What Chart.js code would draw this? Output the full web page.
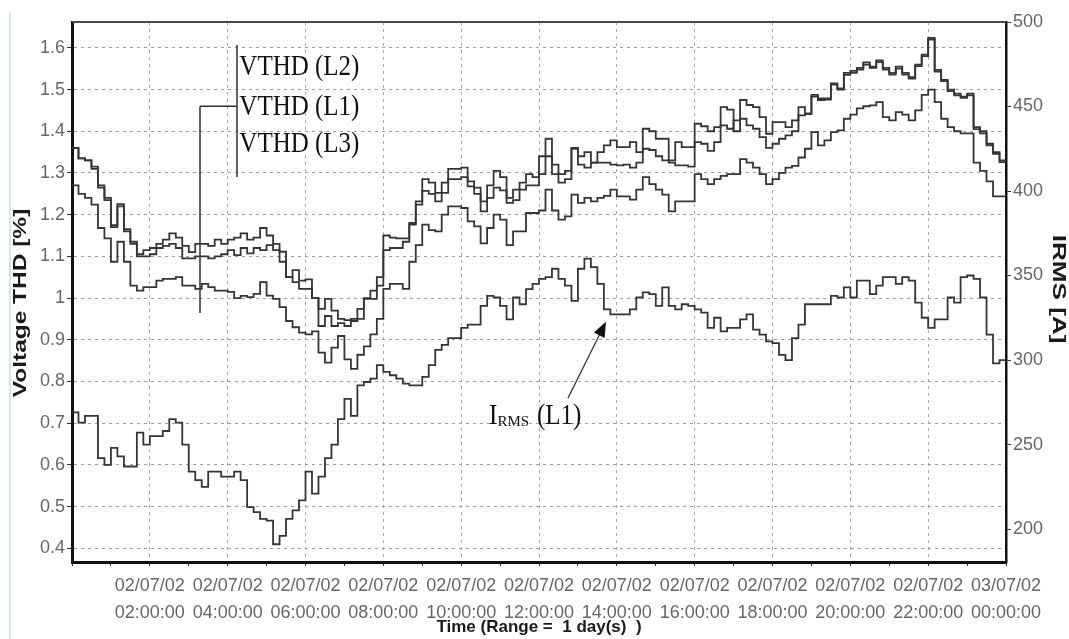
<!DOCTYPE html>
<html>
<head>
<meta charset="utf-8">
<title>VTHD / IRMS</title>
<script src="https://cdn.jsdelivr.net/npm/chart.js@4.4.1/dist/chart.umd.min.js"></script>
<style>
  html, body { margin: 0; padding: 0; background: #fff; }
  #chart { display: block; }
</style>
</head>
<body>
<canvas id="chart" width="1069" height="639"></canvas>
<script>
// one reading every 10 minutes, 02/07/02 00:00 -> 03/07/02 00:00
const stepMinutes = 10;

// Voltage THD [%]
const vthdL2 = [
  1.36, 1.335, 1.33, 1.315, 1.27, 1.24, 1.175, 1.225, 1.165, 1.135, 1.105, 1.115,
  1.12, 1.13, 1.14, 1.155, 1.145, 1.125, 1.11, 1.13, 1.13, 1.125, 1.14, 1.13,
  1.14, 1.145, 1.155, 1.14, 1.145, 1.168, 1.15, 1.13, 1.111, 1.05, 1.067, 1.042,
  1.045, 1.0, 0.974, 0.998, 0.97, 0.95, 0.947, 0.95, 0.974, 1.0, 1.018, 1.05,
  1.15, 1.145, 1.143, 1.143, 1.176, 1.232, 1.285, 1.277, 1.252, 1.277, 1.31, 1.31,
  1.313, 1.28, 1.265, 1.232, 1.27, 1.305, 1.29, 1.24, 1.26, 1.277, 1.297, 1.29,
  1.34, 1.382, 1.32, 1.297, 1.305, 1.358, 1.34, 1.35, 1.325, 1.35, 1.366, 1.378,
  1.362, 1.362, 1.374, 1.35, 1.406, 1.40, 1.382, 1.382, 1.33, 1.374, 1.362, 1.362,
  1.418, 1.412, 1.40, 1.41, 1.458, 1.452, 1.40, 1.475, 1.463, 1.458, 1.434, 1.394,
  1.422, 1.422, 1.41, 1.426, 1.458, 1.442, 1.487, 1.479, 1.479, 1.515, 1.503, 1.54,
  1.545, 1.552, 1.565, 1.555, 1.57, 1.552, 1.54, 1.555, 1.54, 1.53, 1.56, 1.584,
  1.624, 1.547, 1.523, 1.50, 1.49, 1.483, 1.49, 1.41, 1.40, 1.37, 1.35, 1.33
];
const vthdL1 = [
  1.36, 1.335, 1.33, 1.31, 1.265, 1.235, 1.17, 1.22, 1.16, 1.13, 1.10, 1.10,
  1.105, 1.12, 1.125, 1.13, 1.12, 1.095, 1.095, 1.10, 1.10, 1.095, 1.10, 1.105,
  1.115, 1.103, 1.12, 1.107, 1.12, 1.115, 1.127, 1.115, 1.087, 1.05, 1.038, 1.022,
  1.022, 1.0, 0.933, 0.957, 0.933, 0.94, 0.933, 0.945, 0.95, 0.998, 0.998, 1.03,
  1.115, 1.12, 1.12, 1.135, 1.18, 1.224, 1.257, 1.25, 1.232, 1.252, 1.285, 1.285,
  1.29, 1.268, 1.25, 1.208, 1.24, 1.265, 1.258, 1.228, 1.235, 1.26, 1.27, 1.27,
  1.297, 1.34, 1.297, 1.277, 1.285, 1.36, 1.32, 1.313, 1.325, 1.325, 1.325, 1.32,
  1.318, 1.32, 1.313, 1.325, 1.358, 1.355, 1.34, 1.33, 1.325, 1.318, 1.318, 1.315,
  1.374, 1.37, 1.353, 1.374, 1.414, 1.406, 1.426, 1.43, 1.414, 1.406, 1.386, 1.36,
  1.37, 1.382, 1.39, 1.40, 1.438, 1.442, 1.483, 1.475, 1.476, 1.512, 1.50, 1.535,
  1.54, 1.548, 1.56, 1.552, 1.566, 1.548, 1.536, 1.55, 1.536, 1.526, 1.556, 1.58,
  1.62, 1.543, 1.52, 1.496, 1.486, 1.48, 1.486, 1.405, 1.395, 1.366, 1.346, 1.326
];
const vthdL3 = [
  1.27, 1.25, 1.24, 1.224, 1.168, 1.143, 1.087, 1.135, 1.087, 1.03, 1.018, 1.026,
  1.026, 1.042, 1.046, 1.046, 1.05, 1.03, 1.03, 1.022, 1.034, 1.026, 1.018, 1.018,
  1.015, 1.0, 1.005, 1.002, 1.01, 1.038, 1.006, 0.998, 0.978, 0.945, 0.93, 0.917,
  0.913, 0.92, 0.869, 0.845, 0.881, 0.909, 0.853, 0.83, 0.864, 0.884, 0.913, 0.95,
  1.022, 1.034, 1.034, 1.022, 1.087, 1.127, 1.176, 1.163, 1.16, 1.2, 1.22, 1.22,
  1.216, 1.184, 1.172, 1.131, 1.168, 1.2, 1.188, 1.127, 1.16, 1.16, 1.204, 1.204,
  1.21, 1.26, 1.21, 1.188, 1.196, 1.248, 1.228, 1.24, 1.232, 1.24, 1.245, 1.26,
  1.244, 1.244, 1.236, 1.26, 1.29, 1.273, 1.26, 1.248, 1.208, 1.232, 1.232, 1.232,
  1.297, 1.285, 1.273, 1.285, 1.293, 1.297, 1.297, 1.333, 1.325, 1.313, 1.297, 1.273,
  1.285, 1.30, 1.313, 1.317, 1.337, 1.358, 1.398, 1.366, 1.378, 1.398, 1.402, 1.43,
  1.44, 1.455, 1.46, 1.462, 1.47, 1.434, 1.426, 1.446, 1.44, 1.426, 1.45, 1.487,
  1.50, 1.47, 1.43, 1.41, 1.40, 1.395, 1.395, 1.325, 1.305, 1.28, 1.244, 1.244
];

// IRMS [A]
const irmsL1 = [
  269, 263, 267, 267, 242, 238, 248, 243, 237, 237, 257, 250,
  255, 255, 258, 265, 263, 250, 234, 229, 225, 234, 234, 231,
  231, 234, 229, 213, 210, 206, 205, 191, 196, 206, 211, 217,
  234, 221, 231, 242, 250, 265, 277, 267, 285, 287, 289, 297,
  293, 291, 289, 286, 285, 285, 290, 297, 306, 309, 313, 313,
  319, 321, 321, 332, 338, 337, 332, 324, 337, 333, 342, 345,
  348, 349, 354, 348, 344, 335, 354, 360, 355, 345, 330, 327,
  327, 327, 330, 337, 340, 339, 332, 343, 332, 330, 333, 332,
  330, 328, 319, 325, 317, 319, 319, 324, 327, 318, 315, 311,
  310, 303, 300, 313, 321, 333, 333, 333, 333, 338, 337, 343,
  337, 347, 347, 339, 344, 349, 349, 345, 349, 347, 334, 325,
  319, 324, 324, 337, 334, 349, 350, 348, 337, 315, 298, 300
];

// x axis labels, one per 2 hours
const tickDates = ['', '02/07/02', '02/07/02', '02/07/02', '02/07/02', '02/07/02', '02/07/02',
  '02/07/02', '02/07/02', '02/07/02', '02/07/02', '02/07/02', '03/07/02'];
const tickTimes = ['', '02:00:00', '04:00:00', '06:00:00', '08:00:00', '10:00:00', '12:00:00',
  '14:00:00', '16:00:00', '18:00:00', '20:00:00', '22:00:00', '00:00:00'];

const lineColor = '#353535';
const sans = '"Liberation Sans", Arial, sans-serif';
const serif = '"Liberation Serif", "Times New Roman", serif';

// step series: each reading holds for 10 minutes, close the last step at 24h
function toSteps(values) {
  const pts = values.map((v, i) => ({ x: i * stepMinutes / 60, y: v }));
  pts.push({ x: 24, y: values[values.length - 1] });
  return pts;
}

function stepDataset(label, values, axis) {
  return {
    label: label,
    data: toSteps(values),
    yAxisID: axis,
    stepped: 'before',
    borderColor: lineColor,
    borderWidth: 1.8,
    pointRadius: 0,
    fill: false
  };
}

function drawText(ctx, text, x, y, o) {
  ctx.save();
  ctx.translate(x, y);
  ctx.rotate(o.rotation || 0);
  ctx.scale(o.sx || 1, o.sy || 1);
  ctx.font = o.font;
  ctx.fillStyle = o.color || '#000';
  ctx.textAlign = o.align || 'left';
  ctx.textBaseline = o.baseline || 'alphabetic';
  ctx.fillText(text, 0, 0);
  ctx.restore();
}

const decorations = {
  id: 'decorations',
  beforeDraw(chart) {
    const ctx = chart.ctx;
    ctx.save();
    ctx.fillStyle = '#fff';
    ctx.fillRect(0, 0, chart.width, chart.height);
    ctx.strokeStyle = '#d3e9ea';
    ctx.lineWidth = 2;
    ctx.beginPath();
    ctx.moveTo(10, 12);
    ctx.lineTo(10, chart.height);
    ctx.stroke();
    ctx.restore();
  },
  afterDraw(chart) {
    const ctx = chart.ctx;
    const area = chart.chartArea;
    const sx = chart.scales.x, sy = chart.scales.y;
    const px = t => sx.getPixelForValue(t);
    const py = v => sy.getPixelForValue(v);

    // top frame line
    ctx.save();
    ctx.strokeStyle = '#4a4a4a';
    ctx.lineWidth = 2;
    ctx.beginPath();
    ctx.moveTo(area.left, area.top);
    ctx.lineTo(area.right, area.top);
    ctx.stroke();
    ctx.restore();

    // vertical axis titles (drawn elongated like the original)
    drawText(ctx, 'Voltage THD [%]', 21, 303, { font: 'bold 18px ' + sans, color: '#1a1a1a',
      rotation: -Math.PI / 2, sx: 1.36, align: 'center', baseline: 'middle' });
    drawText(ctx, 'IRMS [A]', 1058, 289, { font: 'bold 18px ' + sans, color: '#1a1a1a',
      rotation: Math.PI / 2, sx: 1.45, align: 'center', baseline: 'middle' });

    // VTHD labels with bracket
    ctx.save();
    ctx.strokeStyle = '#333';
    ctx.lineWidth = 1.5;
    ctx.beginPath();
    ctx.moveTo(px(4.24), py(1.607));
    ctx.lineTo(px(4.24), py(1.290));
    ctx.moveTo(px(3.289), py(1.460));
    ctx.lineTo(px(4.24), py(1.460));
    ctx.moveTo(px(3.289), py(1.460));
    ctx.lineTo(px(3.289), py(0.964));
    ctx.stroke();
    ctx.restore();
    const labelOpts = { font: '25px ' + serif, color: '#111', sy: 1.2 };
    drawText(ctx, 'VTHD (L2)', px(4.30), py(1.535), labelOpts);
    drawText(ctx, 'VTHD (L1)', px(4.30), py(1.439), labelOpts);
    drawText(ctx, 'VTHD (L3)', px(4.30), py(1.350), labelOpts);

    // IRMS label and arrow
    const lx = px(10.715), ly = py(0.698);
    drawText(ctx, 'I', lx, ly, { font: '25px ' + serif, color: '#111', sy: 1.2 });
    drawText(ctx, 'RMS', lx + 8.5, ly + 2, { font: '15px ' + serif, color: '#111' });
    drawText(ctx, '(L1)', lx + 48, ly, { font: '25px ' + serif, color: '#111', sy: 1.2 });

    const x0 = px(12.745), y0 = py(0.760), x1 = px(13.72), y1 = py(0.943);
    const ang = Math.atan2(y1 - y0, x1 - x0);
    ctx.save();
    ctx.strokeStyle = '#333';
    ctx.fillStyle = '#111';
    ctx.lineWidth = 1.2;
    ctx.beginPath();
    ctx.moveTo(x0, y0);
    ctx.lineTo(x1 - 12 * Math.cos(ang), y1 - 12 * Math.sin(ang));
    ctx.stroke();
    ctx.beginPath();
    ctx.moveTo(x1, y1);
    ctx.lineTo(x1 - 15 * Math.cos(ang) + 6 * Math.sin(ang), y1 - 15 * Math.sin(ang) - 6 * Math.cos(ang));
    ctx.lineTo(x1 - 15 * Math.cos(ang) - 6 * Math.sin(ang), y1 - 15 * Math.sin(ang) + 6 * Math.cos(ang));
    ctx.closePath();
    ctx.fill();
    ctx.restore();
  }
};

const ctx = document.getElementById('chart').getContext('2d');
const chart = new Chart(ctx, {
  type: 'line',
  data: {
    datasets: [
      stepDataset('VTHD (L2)', vthdL2, 'y'),
      stepDataset('VTHD (L1)', vthdL1, 'y'),
      stepDataset('VTHD (L3)', vthdL3, 'y'),
      stepDataset('IRMS (L1)', irmsL1, 'y1')
    ]
  },
  options: {
    responsive: false,
    animation: false,
    devicePixelRatio: 1,
    events: [],
    layout: { padding: { top: 22 } },
    plugins: {
      legend: { display: false },
      tooltip: { enabled: false }
    },
    scales: {
      x: {
        type: 'linear',
        position: 'bottom',
        min: 0,
        max: 24,
        afterFit: scale => { scale.height = 77; },
        border: { color: '#111', width: 3, dash: [3, 4] },
        grid: {
          color: c => (c.tick && c.tick.value % 2 === 0) ? '#a8a8a8' : 'rgba(0,0,0,0)',
          tickColor: '#333',
          tickLength: 4
        },
        ticks: {
          stepSize: 1,
          autoSkip: false,
          maxRotation: 0,
          padding: 7,
          color: '#666',
          font: { family: sans, size: 18, lineHeight: 1.5 },
          callback: value => {
            if (value % 2 !== 0) return '';
            const k = value / 2;
            return tickDates[k] ? [tickDates[k], tickTimes[k]] : '';
          }
        },
        title: {
          display: true,
          text: 'Time (Range =  1 day(s)  )',
          color: '#1a1a1a',
          font: { family: sans, size: 17, weight: 'bold', lineHeight: 1.2 },
          padding: { top: 0, bottom: 1 }
        }
      },
      y: {
        position: 'left',
        min: 0.367,
        max: 1.662,
        afterFit: scale => { scale.width = 72; },
        border: { color: '#111', width: 3, dash: [3, 4] },
        grid: { color: '#9c9c9c', tickColor: '#333', tickLength: 5 },
        ticks: {
          stepSize: 0.1,
          includeBounds: false,
          padding: 2,
          color: '#666',
          font: { family: sans, size: 18 },
          callback: v => String(Math.round(v * 10) / 10)
        }
      },
      y1: {
        position: 'right',
        min: 180.5,
        max: 500,
        afterFit: scale => { scale.width = 63; },
        border: { color: '#111', width: 2.5 },
        grid: { drawOnChartArea: false, tickColor: '#333', tickLength: 5 },
        ticks: {
          stepSize: 50,
          includeBounds: false,
          padding: 2,
          color: '#666',
          font: { family: sans, size: 18 }
        }
      }
    }
  },
  plugins: [decorations]
});
</script>
</body>
</html>
